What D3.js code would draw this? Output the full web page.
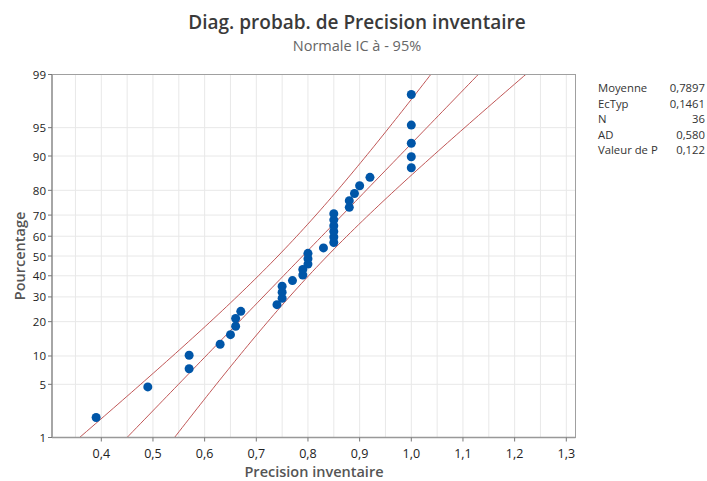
<!DOCTYPE html>
<html>
<head>
<meta charset="utf-8">
<script src="https://cdn.jsdelivr.net/npm/d3@7"></script>
<style>
  body { margin: 0; background: #fff; }
  text { font-family: "Open Sans", "Noto Sans", sans-serif; }
</style>
</head>
<body>
<div id="chart"></div>
<script>
var values = [0.39, 0.49, 0.57, 0.57, 0.63, 0.65, 0.66, 0.66, 0.67, 0.74,
              0.75, 0.75, 0.75, 0.77, 0.79, 0.79, 0.80, 0.80, 0.80, 0.83,
              0.85, 0.85, 0.85, 0.85, 0.85, 0.85, 0.88, 0.88, 0.89, 0.90,
              0.92, 1.00, 1.00, 1.00, 1.00, 1.00];
var xTicks = [0.4, 0.5, 0.6, 0.7, 0.8, 0.9, 1.0, 1.1, 1.2, 1.3];
var yTicks = [1, 5, 10, 20, 30, 40, 50, 60, 70, 80, 90, 95, 99];
var statLabels = ["Moyenne", "EcTyp", "N", "AD", "Valeur de P"];
var statValues = ["0,7897", "0,1461", "36", "0,580", "0,122"];
var mean = 0.7897, sd = 0.1461;

var width = 707, height = 481;
var pLeft = 52, pRight = 575.5, pTop = 74.5, pBottom = 437.5;

var svg = d3.select('#chart').append('svg')
    .attr('width', width)
    .attr('height', height);

// inverse normal cdf (Acklam)
function qnorm(p) {
    var a = [-39.69683028665376, 220.9460984245205, -275.9285104469687, 138.3577518672690, -30.66479806614716, 2.506628277459239];
    var b = [-54.47609879822406, 161.5858368580409, -155.6989798598866, 66.80131188771972, -13.28068155288572];
    var c = [-0.007784894002430293, -0.3223964580411365, -2.400758277161838, -2.549732539343734, 4.374664141464968, 2.938163982698783];
    var d = [0.007784695709041462, 0.3224671290700398, 2.445134137142996, 3.754408661907416];
    var q, r;
    if (p < 0.02425) {
        q = Math.sqrt(-2 * Math.log(p));
        return (((((c[0]*q+c[1])*q+c[2])*q+c[3])*q+c[4])*q+c[5]) / ((((d[0]*q+d[1])*q+d[2])*q+d[3])*q+1);
    } else if (p > 1 - 0.02425) {
        q = Math.sqrt(-2 * Math.log(1 - p));
        return -(((((c[0]*q+c[1])*q+c[2])*q+c[3])*q+c[4])*q+c[5]) / ((((d[0]*q+d[1])*q+d[2])*q+d[3])*q+1);
    }
    q = p - 0.5; r = q * q;
    return (((((a[0]*r+a[1])*r+a[2])*r+a[3])*r+a[4])*r+a[5])*q / (((((b[0]*r+b[1])*r+b[2])*r+b[3])*r+b[4])*r+1);
}

// scales
var x = d3.scaleLinear().domain([0.4, 1.3]).range([101.3, 566.3]);
var y = d3.scaleLinear().domain([qnorm(0.01), qnorm(0.99)]).range([pBottom, pTop]);

// grid
var grid = svg.append('g');
grid.selectAll('.vgrid').data(d3.range(0.35, 1.31, 0.05)).enter()
    .append('line')
    .attr('x1', d => x(d)).attr('x2', d => x(d))
    .attr('y1', pTop).attr('y2', pBottom)
    .attr('stroke', '#e8e8e8').attr('stroke-width', 1);
grid.selectAll('.hgrid').data(yTicks).enter()
    .append('line')
    .attr('x1', pLeft).attr('x2', pRight)
    .attr('y1', d => y(qnorm(d / 100))).attr('y2', d => y(qnorm(d / 100)))
    .attr('stroke', '#e8e8e8').attr('stroke-width', 1);

// fitted line and confidence band
var n = values.length;
var zs = d3.range(-2.6, 2.61, 0.05);
svg.append('clipPath').attr('id', 'plotclip')
    .append('rect').attr('x', pLeft).attr('y', pTop)
    .attr('width', pRight - pLeft).attr('height', pBottom - pTop);
var lineGen = d3.line().x(d => x(d[0])).y(d => y(d[1]));
var fit = zs.map(z => [mean + z * sd, z]);
var lower = zs.map(z => [mean + z * sd - 1.96 * sd * Math.sqrt(1 / n + z * z / (2 * n)), z]);
var upper = zs.map(z => [mean + z * sd + 1.96 * sd * Math.sqrt(1 / n + z * z / (2 * n)), z]);
var lines = svg.append('g').attr('clip-path', 'url(#plotclip)');
[fit, lower, upper].forEach(pts => {
    lines.append('path')
        .attr('d', lineGen(pts))
        .attr('fill', 'none')
        .attr('stroke', '#b94444')
        .attr('stroke-width', 0.9);
});

// points (median ranks)
svg.append('g').selectAll('.pt').data(values).enter()
    .append('circle')
    .attr('cx', d => x(d))
    .attr('cy', (d, i) => y(qnorm((i + 1 - 0.3) / (n + 0.4))))
    .attr('r', 4.5)
    .attr('fill', '#0056a8');

// frame
svg.append('rect')
    .attr('x', pLeft).attr('y', pTop)
    .attr('width', pRight - pLeft).attr('height', pBottom - pTop)
    .attr('fill', 'none').attr('stroke', '#a0a0a0').attr('stroke-width', 1);
svg.append('line').attr('x1', pLeft).attr('x2', pRight).attr('y1', pBottom).attr('y2', pBottom)
    .attr('stroke', '#999').attr('stroke-width', 1.5);
svg.append('line').attr('x1', pLeft).attr('x2', pLeft).attr('y1', pTop).attr('y2', pBottom)
    .attr('stroke', '#999').attr('stroke-width', 1.5);

// axes ticks & labels
var xt = svg.append('g');
xt.selectAll('line').data(xTicks).enter().append('line')
    .attr('x1', d => x(d)).attr('x2', d => x(d))
    .attr('y1', pBottom).attr('y2', pBottom + 4)
    .attr('stroke', '#777');
xt.selectAll('text').data(xTicks).enter().append('text')
    .attr('x', d => x(d)).attr('y', 458)
    .attr('text-anchor', 'middle')
    .attr('font-size', 12.5).attr('font-weight', 500).attr('fill', '#222')
    .text(d => d3.format('.1f')(d).replace('.', ','));

var yt = svg.append('g');
yt.selectAll('line').data(yTicks).enter().append('line')
    .attr('x1', pLeft - 4).attr('x2', pLeft)
    .attr('y1', d => y(qnorm(d / 100))).attr('y2', d => y(qnorm(d / 100)))
    .attr('stroke', '#777');
yt.selectAll('text').data(yTicks).enter().append('text')
    .attr('x', pLeft - 6).attr('y', d => y(qnorm(d / 100)) + 4.5)
    .attr('text-anchor', 'end')
    .attr('font-size', 11.5).attr('font-weight', 500).attr('fill', '#222')
    .text(d => d);

// titles
svg.append('text').attr('x', 357).attr('y', 29)
    .attr('text-anchor', 'middle').attr('font-size', 19).attr('font-weight', 600)
    .attr('fill', '#3a3a3a')
    .text('Diag. probab. de Precision inventaire');
svg.append('text').attr('x', 357).attr('y', 51)
    .attr('text-anchor', 'middle').attr('font-size', 14.5)
    .attr('fill', '#666')
    .text('Normale IC à - 95%');
svg.append('text').attr('x', 314).attr('y', 477)
    .attr('text-anchor', 'middle').attr('font-size', 14.5).attr('font-weight', 600)
    .attr('fill', '#555')
    .text('Precision inventaire');
svg.append('text')
    .attr('transform', 'translate(25,256) rotate(-90)')
    .attr('text-anchor', 'middle').attr('font-size', 14.5).attr('font-weight', 600)
    .attr('fill', '#555')
    .text('Pourcentage');

// stats table
var st = svg.append('g');
st.selectAll('.lab').data(statLabels).enter().append('text')
    .attr('x', 598).attr('y', (d, i) => 92 + i * 15.6)
    .attr('font-size', 11.3).attr('fill', '#333')
    .text(d => d);
st.selectAll('.val').data(statValues).enter().append('text')
    .attr('x', 705).attr('y', (d, i) => 92 + i * 15.6)
    .attr('text-anchor', 'end')
    .attr('font-size', 11.3).attr('fill', '#333')
    .text(d => d);
</script>
</body>
</html>
